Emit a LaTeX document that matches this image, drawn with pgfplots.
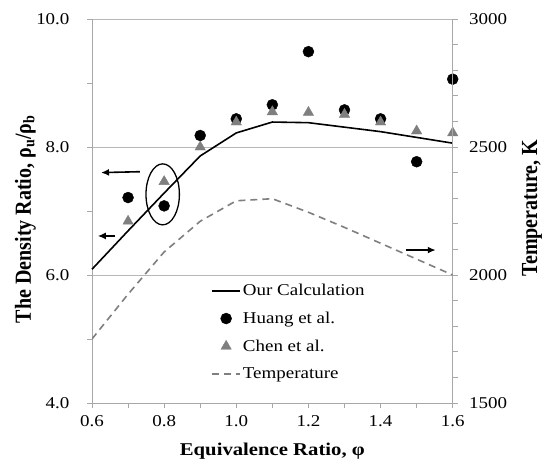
\documentclass[border=0pt]{standalone}
\usepackage{pgfplots}
\pgfplotsset{compat=1.18}
\usepackage{fontspec}
\setmainfont{Liberation Serif}[FakeStretch=1.15]
\newfontfamily\vlabfamily{Liberation Serif}
\usetikzlibrary{arrows.meta}
\definecolor{axisgray}{HTML}{A8A8A8}
\definecolor{gridgray}{HTML}{B8B8B8}
\definecolor{markgray}{HTML}{7F7F7F}
\newcommand{\tickfont}{\fontsize{16.5}{19.8}\selectfont}
\newcommand{\labfont}{\bfseries\fontsize{18}{22}\selectfont}
\newcommand{\vlabfont}{\vlabfamily\bfseries\fontsize{20}{24}\selectfont}
\begin{document}
\begin{tikzpicture}
\useasboundingbox (-92pt,-61pt) rectangle (453pt,403pt);
\begin{axis}[
  scale only axis, width=360.7pt, height=384pt,
  xmin=0.6, xmax=1.6, ymin=4, ymax=10,
  axis x line=bottom, axis y line=left,
  axis line style={-, draw=axisgray, line width=0.8pt},
  tick align=outside,
  major tick length=5pt, minor tick length=5pt,
  every tick/.style={draw=axisgray, line width=0.8pt},
  xtick={0.6,0.8,1.0,1.2,1.4,1.6}, minor x tick num=1,
  ytick={4,6,8,10}, minor y tick num=1,
  ymajorgrids, major grid style={draw=gridgray, line width=0.8pt},
  /pgf/number format/assume math mode=true,
  /pgf/number format/fixed, /pgf/number format/fixed zerofill, /pgf/number format/precision=1,
  ticklabel style={font=\tickfont},
  yticklabel style={xshift=-14pt},
  xticklabel style={yshift=-4pt},
  xlabel={Equivalence Ratio, φ},
  xlabel style={font=\labfont, at={(axis description cs:0.5,-0.125)}, anchor=center},
  ylabel={The Density Ratio, ρ\textsubscript{u}/ρ\textsubscript{b}},
  ylabel style={font=\vlabfont, at={(axis description cs:-0.185,0.479)}, anchor=center, yscale=1.15},
  legend style={draw=none, fill=none, font=\tickfont, at={(rel axis cs:0.322,0.32)}, anchor=north west, row sep=10.8pt},
  legend cell align=left,
  legend image code/.code={\draw[mark repeat=2,mark phase=2,#1] plot coordinates {(0pt,0pt) (14pt,0pt) (28pt,0pt)};},
  clip=false,
]
\addplot[black, line width=1.6pt, mark=none] coordinates {
(0.6,6.09) (0.7,6.69) (0.8,7.28) (0.9,7.86) (1.0,8.22) (1.1,8.39)
(1.2,8.38) (1.3,8.31) (1.4,8.24) (1.5,8.15) (1.6,8.06)};
\addlegendentry{Our Calculation}
\addplot[only marks, mark=*, mark size=5.5pt, black] coordinates {
(0.7,7.21) (0.8,7.08) (0.9,8.18) (1.0,8.44) (1.1,8.66)
(1.2,9.49) (1.3,8.58) (1.4,8.44) (1.5,7.77) (1.6,9.06)};
\addlegendentry{Huang et al.}
\addplot[only marks, mark=triangle*, mark size=6pt, markgray, mark options={fill=markgray, draw=markgray}] coordinates {
(0.7,6.84) (0.8,7.46) (0.9,8.00) (1.0,8.39) (1.1,8.55)
(1.2,8.54) (1.3,8.51) (1.4,8.39) (1.5,8.25) (1.6,8.22)};
\addlegendentry{Chen et al.}
\addlegendimage{markgray, line width=1.6pt, dash pattern=on 7pt off 5pt}
\addlegendentry{Temperature}
\draw[black, line width=1.6pt, -{Latex[length=8pt,width=7pt]}] (axis cs:0.733,7.614) -- (axis cs:0.625,7.60);
\draw[black, line width=1.6pt, -{Latex[length=8pt,width=7pt]}] (axis cs:0.664,6.61) -- (axis cs:0.616,6.61);
\draw[black, line width=1.6pt, -{Latex[length=8pt,width=7pt]}] (axis cs:1.4705,6.39) -- (axis cs:1.553,6.39);
\draw[black, line width=1.3pt] (axis cs:0.796,7.26) ellipse [x radius=16.7pt, y radius=30.5pt];
\end{axis}
\begin{axis}[
  scale only axis, width=360.7pt, height=384pt,
  xmin=0.6, xmax=1.6, ymin=1500, ymax=3000,
  axis x line=none, axis y line=right,
  axis line style={-, draw=axisgray, line width=0.8pt},
  tick align=outside,
  major tick length=5pt, minor tick length=5pt,
  every tick/.style={draw=axisgray, line width=0.8pt},
  ytick={1500,2000,2500,3000}, minor y tick num=4,
  /pgf/number format/assume math mode=true,
  /pgf/number format/1000 sep={},
  ticklabel style={font=\tickfont},
  yticklabel style={xshift=8pt},
  ylabel={Temperature, K},
  ylabel style={font=\vlabfont, at={(axis description cs:1.22,0.508)}, anchor=center, yscale=1.15},
]
\addplot[markgray, line width=1.6pt, dash pattern=on 7pt off 5pt, mark=none] coordinates {
(0.6,1750) (0.7,1925) (0.8,2090) (0.9,2210) (1.0,2290) (1.1,2298)
(1.2,2245) (1.3,2186) (1.4,2124) (1.5,2062) (1.6,2000)};
\end{axis}
\end{tikzpicture}
\end{document}
